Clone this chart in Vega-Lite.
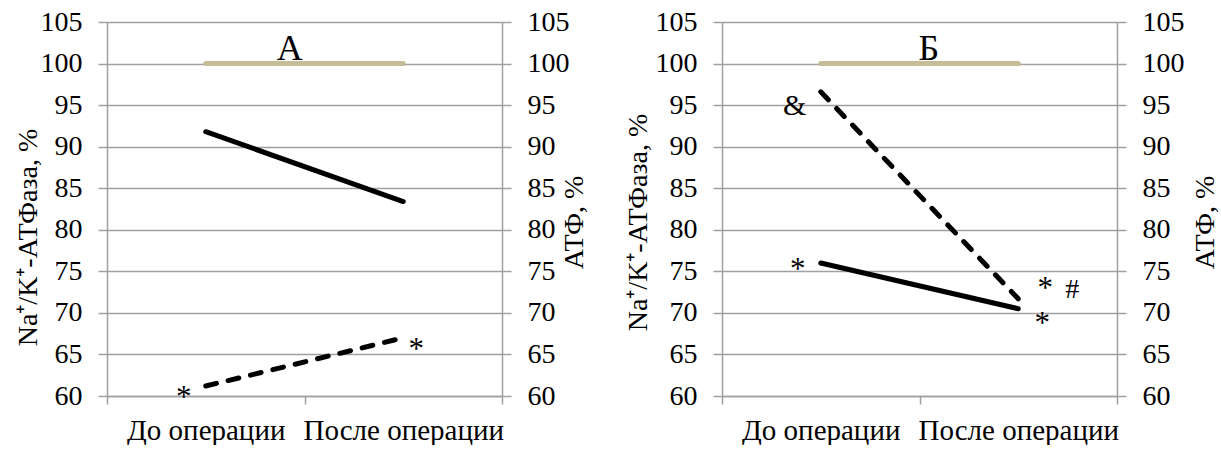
{
  "$schema": "https://vega.github.io/schema/vega-lite/v6.json",
  "padding": {"left": 14, "top": 8, "right": 0, "bottom": 0},
  "datasets": {
    "lines": [
      {"panel": "А", "series": "control", "cat": "До операции", "val": 100},
      {"panel": "А", "series": "control", "cat": "После операции", "val": 100},
      {"panel": "А", "series": "atpase", "cat": "До операции", "val": 91.8},
      {"panel": "А", "series": "atpase", "cat": "После операции", "val": 83.4},
      {"panel": "А", "series": "atp", "cat": "До операции", "val": 61.2},
      {"panel": "А", "series": "atp", "cat": "После операции", "val": 67.0},
      {"panel": "Б", "series": "control", "cat": "До операции", "val": 100},
      {"panel": "Б", "series": "control", "cat": "После операции", "val": 100},
      {"panel": "Б", "series": "atpase", "cat": "До операции", "val": 76.0},
      {"panel": "Б", "series": "atpase", "cat": "После операции", "val": 70.5},
      {"panel": "Б", "series": "atp", "cat": "До операции", "val": 96.6},
      {"panel": "Б", "series": "atp", "cat": "После операции", "val": 71.7}
    ],
    "notes": [
      {"id": "a1", "cat": "До операции", "val": 60.3, "label": "*"},
      {"id": "a2", "cat": "После операции", "val": 66.0, "label": "*"},
      {"id": "aT", "cat": "До операции", "val": 100.4, "label": "А"},
      {"id": "b1", "cat": "До операции", "val": 94.9, "label": "&"},
      {"id": "b2", "cat": "До операции", "val": 75.6, "label": "*"},
      {"id": "b3", "cat": "После операции", "val": 73.4, "label": "*"},
      {"id": "b4", "cat": "После операции", "val": 72.7, "label": "#"},
      {"id": "b5", "cat": "После операции", "val": 69.2, "label": "*"},
      {"id": "bT", "cat": "До операции", "val": 100.4, "label": "Б"}
    ]
  },
  "spacing": 36,
  "hconcat": [
    {
      "width": 395,
      "height": 374,
      "layer": [
        {
          "data": {"name": "lines"},
          "transform": [{"filter": "datum.panel === 'А' && datum.series === 'control'"}],
          "mark": {"type": "line", "color": "#c4bd97", "strokeWidth": 5, "strokeCap": "round"},
          "encoding": {
            "x": {"field": "cat", "type": "nominal", "sort": ["До операции", "После операции"], "bandPosition": 0.5, "scale": {"type": "band", "paddingInner": 0, "paddingOuter": 0}, "title": null},
            "y": {"field": "val", "type": "quantitative", "scale": {"domain": [60, 105], "nice": false, "zero": false}, "axis": {"orient": "left", "grid": true, "title": "Na⁺/K⁺-АТФаза, %", "titleX": -71, "titleY": 215, "titleBaseline": "alphabetic", "titleAngle": 270}}
          }
        },
        {
          "data": {"name": "lines"},
          "transform": [{"filter": "datum.panel === 'А' && datum.series === 'atpase'"}],
          "mark": {"type": "line", "color": "black", "strokeWidth": 5, "strokeCap": "round"},
          "encoding": {
            "x": {"field": "cat", "type": "nominal", "sort": ["До операции", "После операции"], "bandPosition": 0.5, "title": null},
            "y": {"field": "val", "type": "quantitative", "scale": {"domain": [60, 105], "nice": false, "zero": false}, "axis": null}
          }
        },
        {
          "data": {"name": "lines"},
          "transform": [{"filter": "datum.panel === 'А' && datum.series === 'atp'"}],
          "mark": {"type": "line", "color": "black", "strokeWidth": 5, "strokeCap": "round", "strokeDash": [11, 12]},
          "encoding": {
            "x": {"field": "cat", "type": "nominal", "sort": ["До операции", "После операции"], "bandPosition": 0.5, "title": null},
            "y": {"field": "val", "type": "quantitative", "scale": {"domain": [60, 105], "nice": false, "zero": false}, "axis": {"orient": "right", "grid": false, "title": "АТФ, %", "titleX": 80, "titleY": 200, "titleBaseline": "alphabetic", "titleAngle": 270}}
          }
        },
        {
          "data": {"name": "notes"},
          "transform": [{"filter": "datum.id === 'a1'"}],
          "mark": {"type": "text", "fontSize": 31, "baseline": "middle", "align": "center", "dx": -22, "dy": 4},
          "encoding": {
            "x": {"field": "cat", "type": "nominal", "sort": ["До операции", "После операции"], "bandPosition": 0.5, "title": null},
            "y": {"field": "val", "type": "quantitative", "scale": {"domain": [60, 105], "nice": false, "zero": false}, "axis": null},
            "text": {"field": "label"}
          }
        },
        {
          "data": {"name": "notes"},
          "transform": [{"filter": "datum.id === 'a2'"}],
          "mark": {"type": "text", "fontSize": 31, "baseline": "middle", "align": "center", "dx": 13, "dy": 4},
          "encoding": {
            "x": {"field": "cat", "type": "nominal", "sort": ["До операции", "После операции"], "bandPosition": 0.5, "title": null},
            "y": {"field": "val", "type": "quantitative", "scale": {"domain": [60, 105], "nice": false, "zero": false}, "axis": null},
            "text": {"field": "label"}
          }
        },
        {
          "data": {"name": "notes"},
          "transform": [{"filter": "datum.id === 'aT'"}],
          "mark": {"type": "text", "fontSize": 36, "baseline": "alphabetic", "align": "center", "dx": 84},
          "encoding": {
            "x": {"field": "cat", "type": "nominal", "sort": ["До операции", "После операции"], "bandPosition": 0.5, "title": null},
            "y": {"field": "val", "type": "quantitative", "scale": {"domain": [60, 105], "nice": false, "zero": false}, "axis": null},
            "text": {"field": "label"}
          }
        }
      ],
      "resolve": {"scale": {"y": "independent"}}
    },
    {
      "width": 395,
      "height": 374,
      "layer": [
        {
          "data": {"name": "lines"},
          "transform": [{"filter": "datum.panel === 'Б' && datum.series === 'control'"}],
          "mark": {"type": "line", "color": "#c4bd97", "strokeWidth": 5, "strokeCap": "round"},
          "encoding": {
            "x": {"field": "cat", "type": "nominal", "sort": ["До операции", "После операции"], "bandPosition": 0.5, "scale": {"type": "band", "paddingInner": 0, "paddingOuter": 0}, "title": null},
            "y": {"field": "val", "type": "quantitative", "scale": {"domain": [60, 105], "nice": false, "zero": false}, "axis": {"orient": "left", "grid": true, "title": "Na⁺/K⁺-АТФаза, %", "titleX": -76, "titleY": 200, "titleBaseline": "alphabetic", "titleAngle": 270}}
          }
        },
        {
          "data": {"name": "lines"},
          "transform": [{"filter": "datum.panel === 'Б' && datum.series === 'atpase'"}],
          "mark": {"type": "line", "color": "black", "strokeWidth": 5, "strokeCap": "round"},
          "encoding": {
            "x": {"field": "cat", "type": "nominal", "sort": ["До операции", "После операции"], "bandPosition": 0.5, "title": null},
            "y": {"field": "val", "type": "quantitative", "scale": {"domain": [60, 105], "nice": false, "zero": false}, "axis": null}
          }
        },
        {
          "data": {"name": "lines"},
          "transform": [{"filter": "datum.panel === 'Б' && datum.series === 'atp'"}],
          "mark": {"type": "line", "color": "black", "strokeWidth": 5, "strokeCap": "round", "strokeDash": [11, 12]},
          "encoding": {
            "x": {"field": "cat", "type": "nominal", "sort": ["До операции", "После операции"], "bandPosition": 0.5, "title": null},
            "y": {"field": "val", "type": "quantitative", "scale": {"domain": [60, 105], "nice": false, "zero": false}, "axis": {"orient": "right", "grid": false, "title": "АТФ, %", "titleX": 96, "titleY": 200, "titleBaseline": "alphabetic", "titleAngle": 270}}
          }
        },
        {
          "data": {"name": "notes"},
          "transform": [{"filter": "datum.id === 'b1'"}],
          "mark": {"type": "text", "fontSize": 30, "baseline": "middle", "align": "center", "dx": -26},
          "encoding": {
            "x": {"field": "cat", "type": "nominal", "sort": ["До операции", "После операции"], "bandPosition": 0.5, "title": null},
            "y": {"field": "val", "type": "quantitative", "scale": {"domain": [60, 105], "nice": false, "zero": false}, "axis": null},
            "text": {"field": "label"}
          }
        },
        {
          "data": {"name": "notes"},
          "transform": [{"filter": "datum.id === 'b2'"}],
          "mark": {"type": "text", "fontSize": 31, "baseline": "middle", "align": "center", "dx": -23, "dy": 4},
          "encoding": {
            "x": {"field": "cat", "type": "nominal", "sort": ["До операции", "После операции"], "bandPosition": 0.5, "title": null},
            "y": {"field": "val", "type": "quantitative", "scale": {"domain": [60, 105], "nice": false, "zero": false}, "axis": null},
            "text": {"field": "label"}
          }
        },
        {
          "data": {"name": "notes"},
          "transform": [{"filter": "datum.id === 'b3'"}],
          "mark": {"type": "text", "fontSize": 31, "baseline": "middle", "align": "center", "dx": 27, "dy": 4},
          "encoding": {
            "x": {"field": "cat", "type": "nominal", "sort": ["До операции", "После операции"], "bandPosition": 0.5, "title": null},
            "y": {"field": "val", "type": "quantitative", "scale": {"domain": [60, 105], "nice": false, "zero": false}, "axis": null},
            "text": {"field": "label"}
          }
        },
        {
          "data": {"name": "notes"},
          "transform": [{"filter": "datum.id === 'b4'"}],
          "mark": {"type": "text", "fontSize": 28, "baseline": "middle", "align": "center", "dx": 54},
          "encoding": {
            "x": {"field": "cat", "type": "nominal", "sort": ["До операции", "После операции"], "bandPosition": 0.5, "title": null},
            "y": {"field": "val", "type": "quantitative", "scale": {"domain": [60, 105], "nice": false, "zero": false}, "axis": null},
            "text": {"field": "label"}
          }
        },
        {
          "data": {"name": "notes"},
          "transform": [{"filter": "datum.id === 'b5'"}],
          "mark": {"type": "text", "fontSize": 31, "baseline": "middle", "align": "center", "dx": 24, "dy": 4},
          "encoding": {
            "x": {"field": "cat", "type": "nominal", "sort": ["До операции", "После операции"], "bandPosition": 0.5, "title": null},
            "y": {"field": "val", "type": "quantitative", "scale": {"domain": [60, 105], "nice": false, "zero": false}, "axis": null},
            "text": {"field": "label"}
          }
        },
        {
          "data": {"name": "notes"},
          "transform": [{"filter": "datum.id === 'bT'"}],
          "mark": {"type": "text", "fontSize": 36, "baseline": "alphabetic", "align": "center", "dx": 108},
          "encoding": {
            "x": {"field": "cat", "type": "nominal", "sort": ["До операции", "После операции"], "bandPosition": 0.5, "title": null},
            "y": {"field": "val", "type": "quantitative", "scale": {"domain": [60, 105], "nice": false, "zero": false}, "axis": null},
            "text": {"field": "label"}
          }
        }
      ],
      "resolve": {"scale": {"y": "independent"}}
    }
  ],
  "config": {
    "font": "Liberation Serif",
    "view": {"stroke": null},
    "text": {"font": "Liberation Serif", "color": "black"},
    "axis": {
      "labelFont": "Liberation Serif",
      "labelFontSize": 28,
      "labelColor": "black",
      "titleFont": "Liberation Serif",
      "titleFontSize": 28,
      "titleFontWeight": "normal",
      "titleColor": "black",
      "domainColor": "#a0a0a0",
      "tickColor": "#a0a0a0",
      "gridColor": "#a0a0a0",
      "domainWidth": 1.5,
      "tickWidth": 1.5,
      "gridWidth": 1.5
    },
    "axisX": {"grid": false, "tickBand": "extent", "tickSize": 8, "labelPadding": 12, "labelAngle": 0, "labelFontSize": 29, "labelLimit": 400},
    "axisY": {"tickSize": 9, "labelPadding": 16, "values": [60, 65, 70, 75, 80, 85, 90, 95, 100, 105]}
  }
}
